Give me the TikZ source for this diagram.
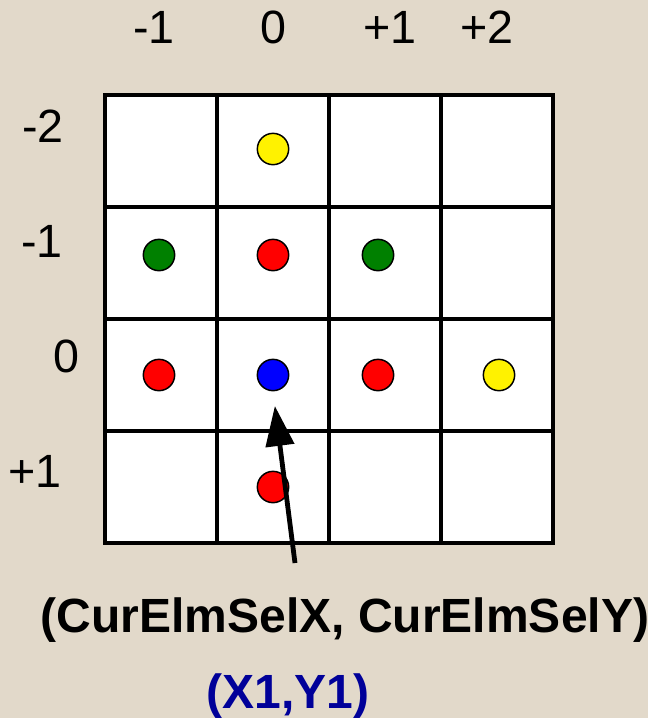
\documentclass[tikz,border=0pt]{standalone}
\usepackage{fontspec}
\setmainfont{Liberation Sans}
\definecolor{parchment}{RGB}{226, 217, 202}
\definecolor{dotgreen}{RGB}{0, 128, 0}
\definecolor{selblue}{RGB}{0, 0, 153}
\usetikzlibrary{arrows.meta, positioning}

\begin{document}
\begin{tikzpicture}[
  x=0.75pt, y=-0.75pt,
  cell/.style={draw=black, fill=white, line width=3pt, minimum size=84pt, inner sep=0pt, outer sep=0pt},
  dot/.style={circle, draw=black, line width=1.1pt, minimum size=23.5pt, inner sep=0pt},
  axlabel/.style={anchor=base, inner sep=0pt, font=\fontsize{35}{40}\selectfont},
  sellabel/.style={anchor=base, inner sep=0pt, font=\fontsize{36}{42}\selectfont\bfseries},
  pointer/.style={line width=3.6pt, -{Triangle[length=30pt, width=21pt]}, shorten >=11pt}
]
  \fill[parchment] (0,0) rectangle (648,718);
  \useasboundingbox (0,0) rectangle (648,718);

  \foreach \r in {0,...,3}
    \foreach \c in {0,...,3}
      \node[cell] (cell\r\c) at ({161+112*\c},{151+112*\r}) {};

  \node[axlabel] (colm1) at (154,43) {-1};
  \node[axlabel] (col0) at (273,43) {0};
  \node[axlabel] (colp1) at (390,43) {+1};
  \node[axlabel] (colp2) at (487,43) {+2};

  \node[axlabel] (rowm2) at (43,142) {-2};
  \node[axlabel] (rowm1) at (42,257) {-1};
  \node[axlabel] (row0) at (66,372) {0};
  \node[axlabel] (rowp1) at (35,487) {+1};

  \node[dot, fill=yellow] (yeltop) at (273,149) {};
  \node[dot, fill=dotgreen] (grnleft) at (159,255) {};
  \node[dot, fill=red] (redup) at (273,255) {};
  \node[dot, fill=dotgreen] (grnright) at (378,255) {};
  \node[dot, fill=red] (redleft) at (159,375) {};
  \node[dot, fill=blue] (cur) at (273,375) {};
  \node[dot, fill=red] (redright) at (378,375) {};
  \node[dot, fill=yellow] (yelright) at (499,375) {};
  \node[dot, fill=red] (reddown) at (273,487) {};

  \coordinate (tail) at (295,563);
  \draw[pointer] (tail) -- (cur.south);

  \node[sellabel] (curelm) at (345,632) {(CurElmSelX, CurElmSelY)};
  \node[sellabel, text=selblue] (xy1) at (288,708) {(X1,Y1)};
\end{tikzpicture}
\end{document}
